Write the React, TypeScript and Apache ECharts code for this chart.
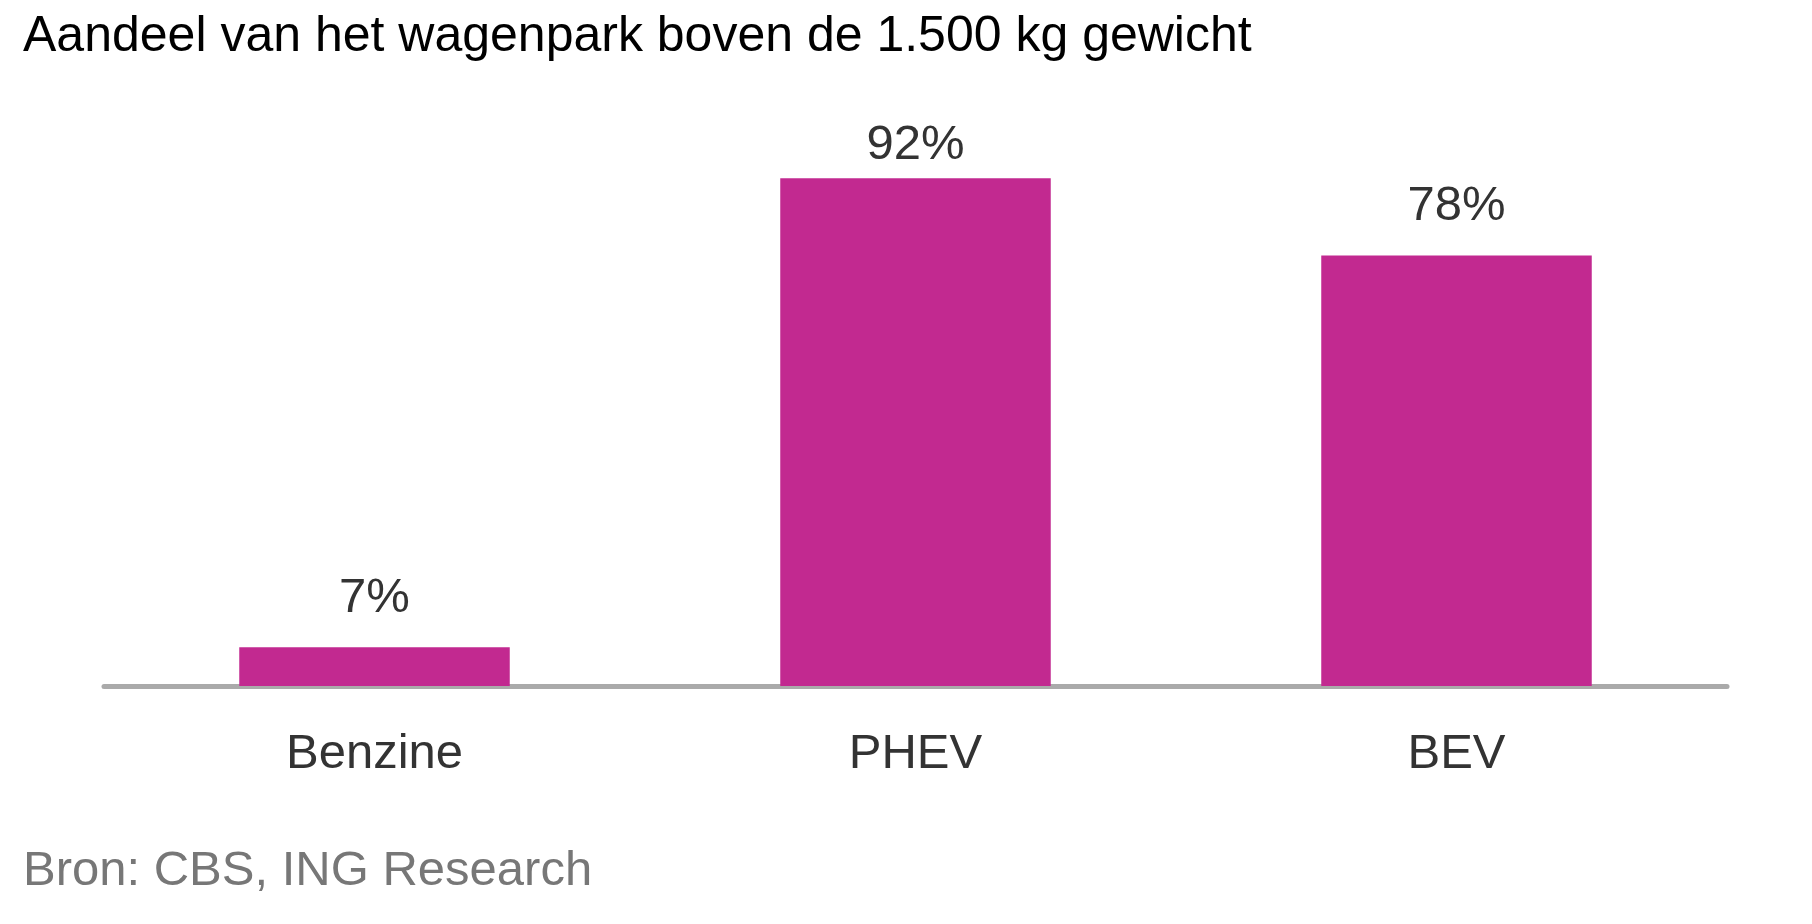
import { useEffect, useRef } from 'react';
import * as echarts from 'echarts';

const categories = ['Benzine', 'PHEV', 'BEV'];
const shares = [7, 92, 78];

const titleText = 'Aandeel van het wagenpark boven de 1.500 kg gewicht';
const sourceText = 'Bron: CBS, ING Research';

const FONT = '"Liberation Sans", Arial, Helvetica, sans-serif';

export default function App() {
    const chartRef = useRef<HTMLDivElement>(null);

    useEffect(() => {
        const myChart = echarts.init(chartRef.current, null, { renderer: 'svg' });

        myChart.setOption({
            animation: false,
            backgroundColor: '#ffffff',
            textStyle: { fontFamily: FONT },
            title: {
                text: titleText,
                left: 18,
                top: 4,
                textStyle: { fontFamily: FONT, fontSize: 50, fontWeight: 'normal', color: '#000000' },
            },
            graphic: [
                {
                    type: 'text',
                    left: 23,
                    top: 843,
                    style: { text: sourceText, font: `49px ${FONT}`, fill: '#777777' },
                },
            ],
            grid: { left: 104, right: 85, top: 134, bottom: 238 },
            xAxis: {
                type: 'category',
                data: categories,
                axisTick: { show: false },
                axisLine: { lineStyle: { color: '#aaaaaa', width: 5 } },
                axisLabel: { color: '#333333', fontSize: 49, fontFamily: FONT, margin: 40 },
            },
            yAxis: {
                type: 'value',
                min: 0,
                max: 100,
                show: false,
                splitLine: { show: false },
            },
            series: [
                {
                    type: 'bar',
                    barWidth: '50%',
                    itemStyle: { color: '#c22990' },
                    label: {
                        show: true,
                        position: 'top',
                        distance: 28,
                        formatter: '{c}%',
                        color: '#333333',
                        fontSize: 49,
                        fontFamily: FONT,
                    },
                    // the tallest bar's label sits closer to its bar
                    data: shares.map((v) => (v === Math.max(...shares) ? { value: v, label: { distance: 12 } } : v)),
                },
            ],
        });

        return () => {
            myChart.dispose();
        };
    }, []);

    return <div ref={chartRef} style={{ position: 'fixed', left: 0, top: 0, width: '1812px', height: '924px' }} />;
}
